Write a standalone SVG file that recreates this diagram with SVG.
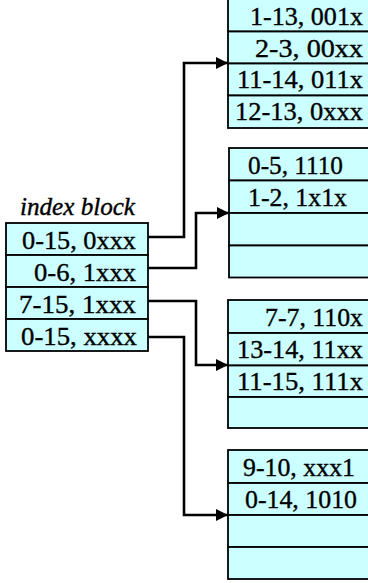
<svg xmlns="http://www.w3.org/2000/svg" width="368" height="583" viewBox="0 0 368 583">
  <style>
    .cell { fill: #ccffff; stroke: #000; stroke-width: 1.8; }
    .t { font-family: "Liberation Serif", "Times New Roman", serif; font-size: 26px; fill: #000; stroke: #000; stroke-width: 0.35; }
    .e { text-anchor: end; }
    .title { font-family: "Liberation Serif", "Times New Roman", serif; font-size: 26px; font-style: italic; fill: #000; stroke: #000; stroke-width: 0.4; }
    .wire { fill: none; stroke: #000; stroke-width: 2.6; stroke-linejoin: miter; }
  </style>
  <defs>
    <marker id="arrow" markerUnits="userSpaceOnUse" markerWidth="13" markerHeight="13" refX="12" refY="6.5" orient="auto">
      <path d="M0,0.5 L12,6.5 L0,12.5 Z" fill="#000"/>
    </marker>
  </defs>

  <rect width="368" height="583" fill="#fff"/>

  <!-- index block -->
  <g id="index-block">
    <text class="title" x="20" y="215" textLength="115" lengthAdjust="spacingAndGlyphs">index block</text>
    <rect class="cell" x="6" y="223" width="142" height="32"/>
    <rect class="cell" x="6" y="255" width="142" height="32"/>
    <rect class="cell" x="6" y="287" width="142" height="32"/>
    <rect class="cell" x="6" y="319" width="142" height="32"/>
    <text class="t e" x="136" y="249" textLength="114" lengthAdjust="spacingAndGlyphs">0-15, 0xxx</text>
    <text class="t e" x="136" y="281" textLength="102" lengthAdjust="spacingAndGlyphs">0-6, 1xxx</text>
    <text class="t e" x="136" y="313" textLength="117" lengthAdjust="spacingAndGlyphs">7-15, 1xxx</text>
    <text class="t e" x="137" y="345" textLength="116" lengthAdjust="spacingAndGlyphs">0-15, xxxx</text>
  </g>

  <!-- leaf block 1 -->
  <g id="leaf-1">
    <rect class="cell" x="228" y="-1" width="145" height="32.5"/>
    <rect class="cell" x="228" y="31.5" width="145" height="32"/>
    <rect class="cell" x="228" y="63.5" width="145" height="32"/>
    <rect class="cell" x="228" y="95.5" width="145" height="32.5"/>
    <text class="t e" x="363" y="25" textLength="113" lengthAdjust="spacingAndGlyphs">1-13, 001x</text>
    <text class="t e" x="363" y="57" textLength="108" lengthAdjust="spacingAndGlyphs">2-3, 00xx</text>
    <text class="t e" x="363" y="88" textLength="126" lengthAdjust="spacingAndGlyphs">11-14, 011x</text>
    <text class="t e" x="363" y="120" textLength="128" lengthAdjust="spacingAndGlyphs">12-13, 0xxx</text>
  </g>

  <!-- leaf block 2 -->
  <g id="leaf-2">
    <rect class="cell" x="229" y="148" width="145" height="32.5"/>
    <rect class="cell" x="229" y="180.5" width="145" height="32.5"/>
    <rect class="cell" x="229" y="213" width="145" height="32.5"/>
    <rect class="cell" x="229" y="245.5" width="145" height="32"/>
    <text class="t" x="248" y="174" textLength="95" lengthAdjust="spacingAndGlyphs">0-5, 1110</text>
    <text class="t" x="248" y="206" textLength="99" lengthAdjust="spacingAndGlyphs">1-2, 1x1x</text>
  </g>

  <!-- leaf block 3 -->
  <g id="leaf-3">
    <rect class="cell" x="228" y="300" width="145" height="33"/>
    <rect class="cell" x="228" y="333" width="145" height="32.5"/>
    <rect class="cell" x="228" y="365.5" width="145" height="31.5"/>
    <rect class="cell" x="228" y="397" width="145" height="31"/>
    <text class="t e" x="363" y="326" textLength="98" lengthAdjust="spacingAndGlyphs">7-7, 110x</text>
    <text class="t e" x="363" y="358" textLength="126" lengthAdjust="spacingAndGlyphs">13-14, 11xx</text>
    <text class="t e" x="363" y="390" textLength="126" lengthAdjust="spacingAndGlyphs">11-15, 111x</text>
  </g>

  <!-- leaf block 4 -->
  <g id="leaf-4">
    <rect class="cell" x="228" y="450" width="145" height="33"/>
    <rect class="cell" x="228" y="483" width="145" height="32"/>
    <rect class="cell" x="228" y="515" width="145" height="32"/>
    <rect class="cell" x="228" y="547" width="145" height="32"/>
    <text class="t" x="243" y="476" textLength="112" lengthAdjust="spacingAndGlyphs">9-10, xxx1</text>
    <text class="t" x="245" y="508" textLength="112" lengthAdjust="spacingAndGlyphs">0-14, 1010</text>
  </g>

  <!-- pointers from index entries to leaf blocks -->
  <g id="connectors">
    <polyline class="wire" points="148,237 184,237 184,63 228,63" marker-end="url(#arrow)"/>
    <polyline class="wire" points="148,268 196,268 196,213 229,213" marker-end="url(#arrow)"/>
    <polyline class="wire" points="148,301 196,301 196,365 228,365" marker-end="url(#arrow)"/>
    <polyline class="wire" points="148,337 184,337 184,515 228,515" marker-end="url(#arrow)"/>
  </g>
</svg>
